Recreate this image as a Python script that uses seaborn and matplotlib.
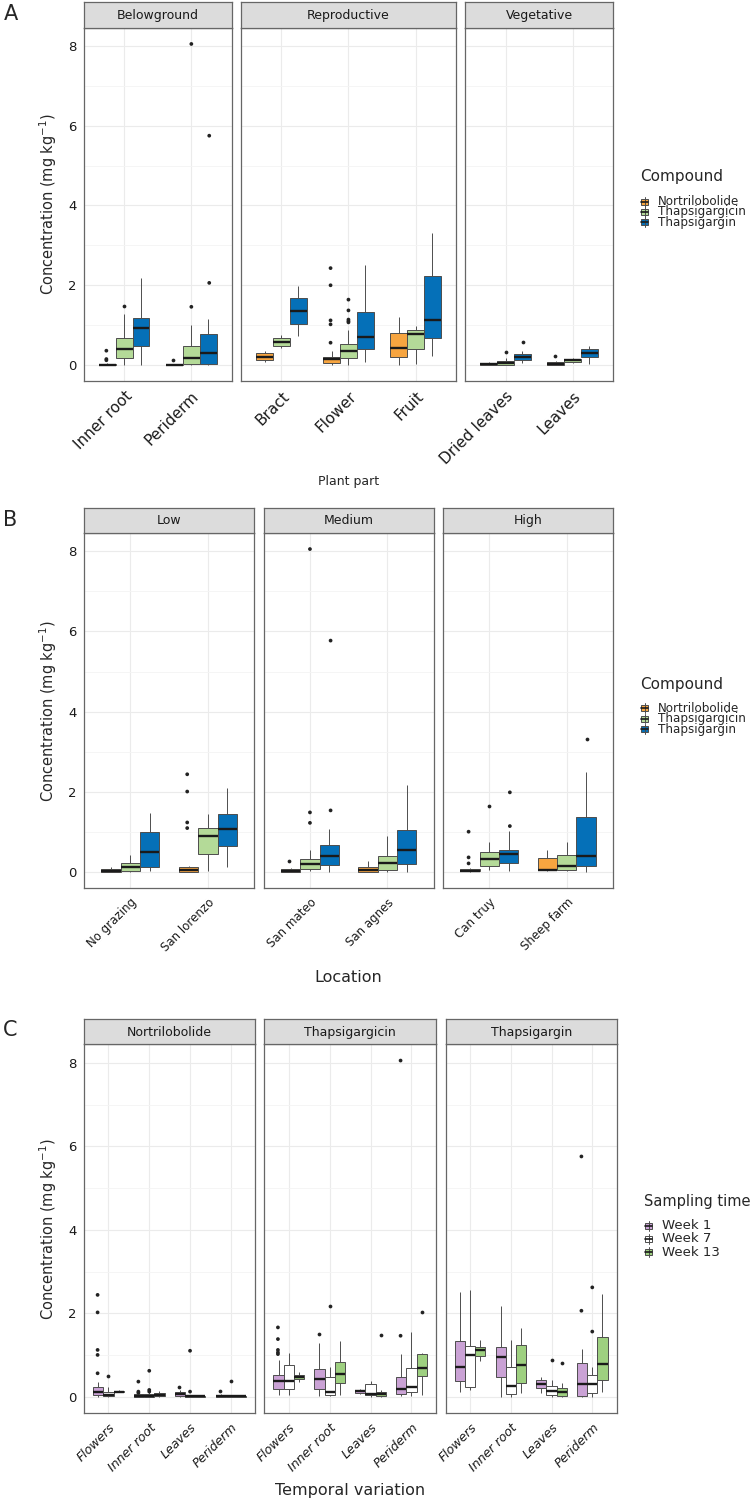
import numpy as np
import pandas as pd
import matplotlib
matplotlib.use("Agg")
import matplotlib.pyplot as plt
from matplotlib.patches import Rectangle
from matplotlib.lines import Line2D
import seaborn as sns

# ---------------- data (five-number summaries: low whisker, Q1, median, Q3, high whisker) -------------
compounds = ["Nortrilobolide", "Thapsigargicin", "Thapsigargin"]
weeks = ["Week 1", "Week 7", "Week 13"]

# A: plant part
plant_parts = ["Inner root", "Periderm", "Bract", "Flower", "Fruit", "Dried leaves", "Leaves"]
part_groups = {"Belowground": ["Inner root", "Periderm"],
               "Reproductive": ["Bract", "Flower", "Fruit"],
               "Vegetative": ["Dried leaves", "Leaves"]}
A_nortrilobolide = [(0.0, 0.0, 0.005, 0.02, 0.05), (0.0, 0.0, 0.005, 0.015, 0.03),
                    (0.07, 0.13, 0.21, 0.29, 0.36), (0.0, 0.04, 0.15, 0.2, 0.36),
                    (0.01, 0.2, 0.42, 0.81, 1.21), (0.0, 0.0, 0.03, 0.06, 0.08),
                    (0.0, 0.0, 0.03, 0.07, 0.1)]
A_thapsigargicin = [(0.0, 0.18, 0.40, 0.67, 1.28), (0.0, 0.03, 0.17, 0.47, 1.0),
                    (0.42, 0.48, 0.58, 0.67, 0.75), (0.0, 0.18, 0.35, 0.52, 0.87),
                    (0.03, 0.39, 0.77, 0.88, 0.97), (0.0, 0.01, 0.04, 0.11, 0.18),
                    (0.06, 0.08, 0.12, 0.16, 0.17)]
A_thapsigargin = [(0.0, 0.47, 0.94, 1.19, 2.17), (0.0, 0.02, 0.29, 0.78, 1.15),
                  (0.73, 1.04, 1.36, 1.67, 1.98), (0.08, 0.39, 0.71, 1.32, 2.5),
                  (0.23, 0.68, 1.13, 2.22, 3.31), (0.04, 0.12, 0.2, 0.27, 0.36),
                  (0.03, 0.19, 0.29, 0.41, 0.47)]
A_outliers = [("Inner root", "Nortrilobolide", 0.36), ("Inner root", "Nortrilobolide", 0.15),
              ("Inner root", "Nortrilobolide", 0.12), ("Inner root", "Thapsigargicin", 1.48),
              ("Periderm", "Nortrilobolide", 0.125), ("Periderm", "Thapsigargicin", 1.46),
              ("Periderm", "Thapsigargicin", 8.05), ("Periderm", "Thapsigargin", 2.06),
              ("Periderm", "Thapsigargin", 5.75), ("Flower", "Nortrilobolide", 2.43),
              ("Flower", "Nortrilobolide", 2.0), ("Flower", "Nortrilobolide", 1.12),
              ("Flower", "Nortrilobolide", 1.02), ("Flower", "Nortrilobolide", 0.56),
              ("Flower", "Thapsigargicin", 1.64), ("Flower", "Thapsigargicin", 1.37),
              ("Flower", "Thapsigargicin", 1.14), ("Flower", "Thapsigargicin", 1.1),
              ("Flower", "Thapsigargicin", 1.07), ("Dried leaves", "Thapsigargicin", 0.32),
              ("Dried leaves", "Thapsigargin", 0.59), ("Leaves", "Nortrilobolide", 0.22)]

# B: location / grazing
locations = ["No grazing", "San lorenzo", "San mateo", "San agnes", "Can truy", "Sheep farm"]
grazing_groups = {"Low": ["No grazing", "San lorenzo"],
                  "Medium": ["San mateo", "San agnes"],
                  "High": ["Can truy", "Sheep farm"]}
B_nortrilobolide = [(0.0, 0.01, 0.03, 0.09, 0.14), (0.0, 0.0, 0.06, 0.14, 0.16),
                    (0.0, 0.0, 0.03, 0.07, 0.11), (0.0, 0.0, 0.06, 0.12, 0.27),
                    (0.0, 0.02, 0.04, 0.07, 0.1), (0.02, 0.05, 0.06, 0.36, 0.55)]
B_thapsigargicin = [(0.0, 0.02, 0.12, 0.22, 0.42), (0.02, 0.46, 0.91, 1.11, 1.45),
                    (0.03, 0.07, 0.2, 0.32, 0.56), (0.0, 0.06, 0.22, 0.41, 0.9),
                    (0.05, 0.15, 0.34, 0.51, 0.76), (0.02, 0.06, 0.15, 0.44, 0.76)]
B_thapsigargin = [(0.02, 0.14, 0.5, 1.0, 1.48), (0.13, 0.66, 1.07, 1.44, 2.1),
                  (0.0, 0.19, 0.4, 0.68, 1.07), (0.0, 0.2, 0.55, 1.05, 2.17),
                  (0.02, 0.23, 0.45, 0.56, 1.02), (0.0, 0.15, 0.41, 1.37, 2.49)]
B_outliers = [("San lorenzo", "Nortrilobolide", 2.44), ("San lorenzo", "Nortrilobolide", 2.01),
              ("San lorenzo", "Nortrilobolide", 1.24), ("San lorenzo", "Nortrilobolide", 1.1),
              ("San mateo", "Nortrilobolide", 0.27), ("San mateo", "Thapsigargicin", 1.49),
              ("San mateo", "Thapsigargicin", 1.23), ("San mateo", "Thapsigargicin", 8.05),
              ("San mateo", "Thapsigargin", 1.54), ("San mateo", "Thapsigargin", 5.77),
              ("Can truy", "Nortrilobolide", 1.01), ("Can truy", "Nortrilobolide", 0.37),
              ("Can truy", "Nortrilobolide", 0.22), ("Can truy", "Thapsigargicin", 1.65),
              ("Can truy", "Thapsigargin", 1.99), ("Can truy", "Thapsigargin", 1.15),
              ("Sheep farm", "Thapsigargin", 3.33)]

# C: temporal variation, faceted by compound
tissues = ["Flowers", "Inner root", "Leaves", "Periderm"]
C_nortrilobolide = {
    "Week 1": [(0.0, 0.03, 0.12, 0.22, 0.36), (0.0, 0.0, 0.02, 0.06, 0.14),
               (0.0, 0.02, 0.06, 0.1, 0.16), (0.0, 0.0, 0.01, 0.04, 0.06)],
    "Week 7": [(0.0, 0.01, 0.04, 0.12, 0.24), (0.0, 0.0, 0.01, 0.06, 0.1),
               (0.0, 0.0, 0.005, 0.01, 0.02), (0.0, 0.0, 0.01, 0.03, 0.05)],
    "Week 13": [(0.1, 0.1, 0.12, 0.14, 0.16), (0.0, 0.02, 0.04, 0.08, 0.14),
                (0.0, 0.0, 0.005, 0.01, 0.01), (0.0, 0.0, 0.005, 0.01, 0.02)]}
C_thapsigargicin = {
    "Week 1": [(0.03, 0.19, 0.38, 0.52, 0.88), (0.02, 0.18, 0.42, 0.66, 1.28),
               (0.06, 0.08, 0.14, 0.16, 0.18), (0.02, 0.06, 0.18, 0.46, 1.02)],
    "Week 7": [(0.03, 0.18, 0.38, 0.76, 1.04), (0.02, 0.04, 0.1, 0.48, 0.7),
               (0.0, 0.03, 0.06, 0.3, 0.38), (0.02, 0.1, 0.22, 0.69, 1.54)],
    "Week 13": [(0.36, 0.42, 0.48, 0.52, 0.58), (0.04, 0.32, 0.54, 0.82, 1.34),
                (0.0, 0.01, 0.06, 0.12, 0.16), (0.04, 0.5, 0.68, 1.02, 1.04)]}
C_thapsigargin = {
    "Week 1": [(0.1, 0.38, 0.72, 1.34, 2.5), (0.0, 0.46, 0.96, 1.2, 2.18),
               (0.08, 0.21, 0.3, 0.4, 0.48), (0.0, 0.02, 0.3, 0.8, 1.15)],
    "Week 7": [(0.16, 0.22, 1.0, 1.22, 2.56), (0.0, 0.06, 0.26, 0.7, 1.36),
               (0.0, 0.04, 0.14, 0.26, 0.4), (0.0, 0.08, 0.3, 0.52, 0.72)],
    "Week 13": [(0.86, 0.98, 1.12, 1.2, 1.36), (0.08, 0.32, 0.76, 1.23, 1.65),
                (0.0, 0.01, 0.1, 0.21, 0.32), (0.1, 0.41, 0.78, 1.42, 2.46)]}
C_nortrilobolide_out = [("Flowers", "Week 1", 2.44), ("Flowers", "Week 1", 2.02), ("Flowers", "Week 1", 1.12),
                        ("Flowers", "Week 1", 1.0), ("Flowers", "Week 1", 0.56), ("Flowers", "Week 7", 0.5),
                        ("Inner root", "Week 1", 0.36), ("Inner root", "Week 1", 0.12),
                        ("Inner root", "Week 1", 0.09), ("Inner root", "Week 7", 0.62),
                        ("Inner root", "Week 7", 0.16), ("Inner root", "Week 7", 0.12),
                        ("Leaves", "Week 1", 0.24), ("Leaves", "Week 7", 1.1), ("Leaves", "Week 7", 0.12),
                        ("Periderm", "Week 1", 0.14), ("Periderm", "Week 7", 0.38)]
C_thapsigargicin_out = [("Flowers", "Week 1", 1.66), ("Flowers", "Week 1", 1.38), ("Flowers", "Week 1", 1.12),
                        ("Flowers", "Week 1", 1.06), ("Flowers", "Week 1", 1.02), ("Inner root", "Week 1", 1.5),
                        ("Inner root", "Week 7", 2.18), ("Leaves", "Week 13", 1.47),
                        ("Periderm", "Week 1", 1.46), ("Periderm", "Week 1", 8.06),
                        ("Periderm", "Week 13", 2.02)]
C_thapsigargin_out = [("Leaves", "Week 7", 0.88), ("Leaves", "Week 13", 0.81), ("Periderm", "Week 1", 2.06),
                      ("Periderm", "Week 1", 5.76), ("Periderm", "Week 7", 2.62), ("Periderm", "Week 7", 1.56)]

compound_colors = ["#F7A540", "#B4DA98", "#0570B8"]
week_colors = ["#CAA2D5", "#FFFFFF", "#9ED080"]


def long_boxes(cats, series):
    rows = []
    for grp, stats in series.items():
        for cat, five in zip(cats, stats):
            rows += [(cat, grp, v) for v in five]
    return pd.DataFrame(rows, columns=["cat", "group", "value"])


A_box = long_boxes(plant_parts, dict(zip(compounds, [A_nortrilobolide, A_thapsigargicin, A_thapsigargin])))
A_out = pd.DataFrame(A_outliers, columns=["cat", "group", "value"])
B_box = long_boxes(locations, dict(zip(compounds, [B_nortrilobolide, B_thapsigargicin, B_thapsigargin])))
B_out = pd.DataFrame(B_outliers, columns=["cat", "group", "value"])
C_box = {c: long_boxes(tissues, s) for c, s in zip(compounds, [C_nortrilobolide, C_thapsigargicin, C_thapsigargin])}
C_out = {c: pd.DataFrame(o, columns=["cat", "group", "value"])
         for c, o in zip(compounds, [C_nortrilobolide_out, C_thapsigargicin_out, C_thapsigargin_out])}

# ---------------- figure -------------
sns.set_style("white")
plt.rcParams["font.family"] = ["DejaVu Sans"]
W, H = 752, 1500
fig = plt.figure(figsize=(W / 100, H / 100), dpi=100)


def px_axes(left, top, right, bottom):
    return fig.add_axes([left / W, 1 - bottom / H, (right - left) / W, (bottom - top) / H])


def facet(box, out, cats, hue_order, colors, box_px, strip_top, title, first, tick_fs, tick_style="normal"):
    left, top, right, bottom = box_px
    ax = px_axes(left, top, right, bottom)
    pal = dict(zip(hue_order, colors))
    sns.boxplot(data=box[box["cat"].isin(cats)], x="cat", y="value", hue="group", order=cats,
                hue_order=hue_order, palette=pal, saturation=1, whis=(0, 100), width=0.75, gap=0,
                showfliers=False, showcaps=False, linecolor="#4d4d4d", linewidth=0.7,
                medianprops=dict(color="#1a1a1a", linewidth=1.7), legend=False, ax=ax)
    sub = out[out["cat"].isin(cats)]
    if len(sub):
        sns.stripplot(data=sub, x="cat", y="value", hue="group", order=cats, hue_order=hue_order,
                      palette={h: "#222222" for h in hue_order}, dodge=True, jitter=False,
                      size=2.7, linewidth=0, legend=False, ax=ax)
    n = len(cats)
    ax.set_xlim(-0.6, n - 0.4)
    ax.set_ylim(-0.4, 8.45)
    ax.set_yticks([0, 2, 4, 6, 8])
    ax.set_yticks([1, 3, 5, 7], minor=True)
    ax.set_xticks(range(n))
    ax.set_xticklabels(cats, rotation=45, ha="right", va="top", rotation_mode="anchor",
                       fontsize=tick_fs, style=tick_style, color="#1a1a1a")
    ax.grid(True, which="major", color="#ebebeb", lw=0.8)
    ax.grid(True, which="minor", axis="y", color="#f4f4f4", lw=0.6)
    ax.set_axisbelow(True)
    ax.set_xlabel("")
    ax.set_ylabel("")
    for s in ax.spines.values():
        s.set_color("#666666")
        s.set_linewidth(0.9)
    ax.tick_params(axis="both", which="major", length=3.5, width=0.8, color="#333333", pad=2)
    ax.tick_params(axis="y", which="minor", length=0)
    ax.tick_params(axis="y", labelsize=9.5, labelcolor="#1a1a1a")
    if not first:
        ax.tick_params(axis="y", left=False, labelleft=False)
    # strip
    sax = px_axes(left, strip_top, right, top)
    sax.set_facecolor("#dcdcdc")
    sax.set_xticks([])
    sax.set_yticks([])
    for s in sax.spines.values():
        s.set_color("#666666")
        s.set_linewidth(0.9)
    sax.text(0.5, 0.48, title, ha="center", va="center", fontsize=9, color="#1a1a1a",
             transform=sax.transAxes)
    return ax


def key_legend(title, labels, colors, x, y_title, ys, title_fs, label_fs, key=7):
    fig.text(x / W, 1 - y_title / H, title, fontsize=title_fs, va="center", ha="left")
    for lab, col, y in zip(labels, colors, ys):
        fig.add_artist(Line2D([(x + 1 + key / 2) / W] * 2, [1 - (y - key / 2 - 1.5) / H, 1 - (y + key / 2 + 1.5) / H],
                              transform=fig.transFigure, color="#4d4d4d", lw=0.7))
        fig.add_artist(Rectangle(((x + 1) / W, 1 - (y + key / 2 - 0.5) / H), key / W, (key - 1) / H,
                                 transform=fig.transFigure, fc=col, ec="#4d4d4d", lw=0.7))
        fig.add_artist(Line2D([(x + 1) / W, (x + 1 + key) / W], [1 - y / H] * 2,
                              transform=fig.transFigure, color="#1a1a1a", lw=1.2))
        fig.text((x + key + 11) / W, 1 - y / H, lab, fontsize=label_fs, va="center", ha="left")


ylab = "Concentration (mg kg$^{-1}$)"

# Panel A
A_px = [(84, 28, 231.6, 381), (241.1, 28, 455.8, 381), (465.3, 28, 612.9, 381)]
for i, (name, cats) in enumerate(part_groups.items()):
    facet(A_box, A_out, cats, compounds, compound_colors, A_px[i], 2, name, i == 0, 11)
fig.text(4 / W, 1 - 14 / H, "A", fontsize=15, va="center", ha="left")
fig.text(48 / W, 1 - 204.5 / H, ylab, rotation=90, fontsize=10.5, va="center", ha="center")
fig.text(348.5 / W, 1 - 482 / H, "Plant part", fontsize=9, va="center", ha="center")
key_legend("Compound", compounds, compound_colors, 640, 177, [201.7, 212, 222.3], 11, 8.6)

# Panel B
B_px = [(84, 533, 254.3, 888.3), (263.5, 533, 433.8, 888.3), (442.8, 533, 613, 888.3)]
for i, (name, cats) in enumerate(grazing_groups.items()):
    facet(B_box, B_out, cats, compounds, compound_colors, B_px[i], 508, name, i == 0, 8.5)
fig.text(3 / W, 1 - 520 / H, "B", fontsize=15, va="center", ha="left")
fig.text(48 / W, 1 - 710.7 / H, ylab, rotation=90, fontsize=10.5, va="center", ha="center")
fig.text(348.5 / W, 1 - 977 / H, "Location", fontsize=11.5, va="center", ha="center")
key_legend("Compound", compounds, compound_colors, 640, 685, [708, 718.5, 729], 11, 8.6)

# Panel C
C_px = [(84, 1044.3, 255.3, 1413.3), (264.3, 1044.3, 436, 1413.3), (445.7, 1044.3, 616.7, 1413.3)]
for i, comp in enumerate(compounds):
    facet(C_box[comp], C_out[comp], tissues, weeks, week_colors, C_px[i], 1019, comp, i == 0, 9, "italic")
fig.text(3 / W, 1 - 1030 / H, "C", fontsize=15, va="center", ha="left")
fig.text(48 / W, 1 - 1228.8 / H, ylab, rotation=90, fontsize=10.5, va="center", ha="center")
fig.text(350 / W, 1 - 1490 / H, "Temporal variation", fontsize=11.5, va="center", ha="center")
key_legend("Sampling time", weeks, week_colors, 644, 1201.7, [1225.7, 1239, 1252.3], 10.5, 9.5)

fig.savefig("out.png", dpi=100, facecolor="white")
